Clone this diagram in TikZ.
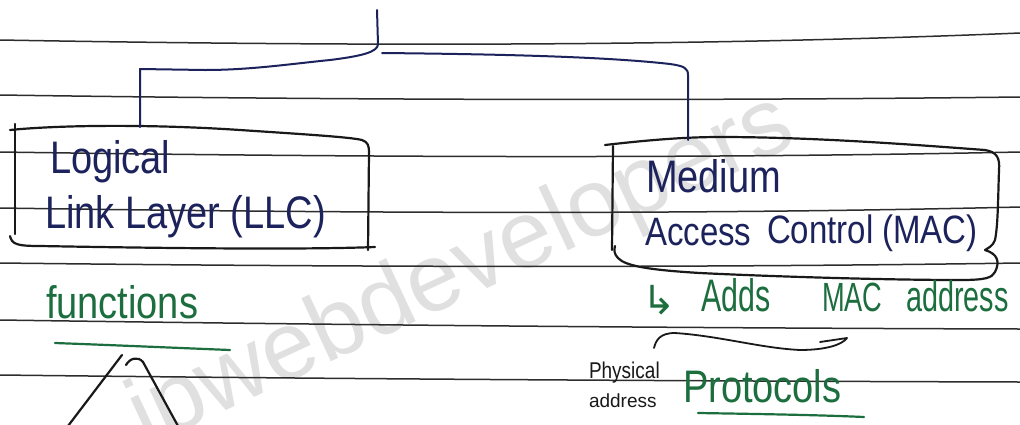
\documentclass[tikz,border=0pt]{standalone}
\usepackage{fontspec}
\setmainfont{Liberation Sans}
\newfontfamily\symfont{DejaVu Sans}
\definecolor{inkblue}{RGB}{28,34,92}
\definecolor{inkgreen}{RGB}{28,110,62}
\definecolor{inkblack}{RGB}{25,25,25}
\definecolor{rulecol}{RGB}{45,45,45}
\definecolor{wmark}{RGB}{224,224,224}
\newcommand{\tallt}[1]{\scalebox{1}[1.2]{#1}}
\newcommand{\narrowt}[1]{\scalebox{0.8}[1.2]{#1}}
\begin{document}
\begin{tikzpicture}[x=1pt,y=-1pt,line cap=round,line join=round,
  rulestyle/.style={draw=rulecol,line width=1.5pt},
  blackpen/.style={draw=inkblack,line width=2.2pt},
  bluepen/.style={draw=inkblue,line width=2pt},
  greenpen/.style={draw=inkgreen,line width=2.2pt},
  txt/.style={anchor=base west,inner sep=0pt,outer sep=0pt},
  bluetxt/.style={txt,text=inkblue,font=\fontsize{38}{40}\selectfont},
  bluetxtb/.style={txt,text=inkblue,font=\fontsize{33}{36}\selectfont},
  greentxt/.style={txt,text=inkgreen,font=\fontsize{38}{40}\selectfont},
  smalltxt/.style={txt,text=inkblack,font=\fontsize{19}{20}\selectfont}]
\useasboundingbox (0,0) rectangle (1020,424);
\clip (0,0) rectangle (1020,424);
\fill[white] (0,0) rectangle (1020,424);
% watermark
\node[anchor=base west,inner sep=0pt,text=wmark,rotate=25,font=\fontsize{96}{96}\selectfont] (wm) at (146,448) {ipwebdevelopers};
% ruled lines
\draw[rulestyle] (0,40) .. controls (340,46) and (680,47) .. (1020,33);
\draw[rulestyle] (0,95) .. controls (340,100) and (680,101) .. (1020,97);
\draw[rulestyle] (0,152) .. controls (340,157) and (680,159) .. (1020,152);
\draw[rulestyle] (0,208) .. controls (340,213) and (680,215) .. (1020,207);
\draw[rulestyle] (0,263) .. controls (340,267) and (680,268) .. (1020,263);
\draw[rulestyle] (0,320) .. controls (340,325) and (680,328) .. (1020,329);
\draw[rulestyle] (0,375) .. controls (340,379) and (680,381) .. (1020,382);
% named anchor points
\coordinate (root) at (377,10);
\coordinate (fork) at (378,44);
\coordinate (llctop) at (140,127);
\coordinate (mactop) at (688,140);
% left box (LLC)
\draw[blackpen] (10,130) .. controls (60,125) and (150,124) .. (240,130)
   .. controls (300,134) and (350,137) .. (362,140) .. controls (368,142) and (369,146) .. (369,152)
   -- (368,250);
\draw[blackpen] (15,124) -- (15,234);
\draw[blackpen] (10,236) .. controls (12,244) and (16,246) .. (40,246)
   .. controls (150,248) and (300,250) .. (375,247);
% right box (MAC)
\draw[blackpen] (605,145) .. controls (640,141) and (680,137) .. (720,137)
   .. controls (820,137) and (930,146) .. (985,150) .. controls (997,152) and (1000,158) .. (999,170)
   .. controls (998,200) and (998,225) .. (995,240) .. controls (993,246) and (988,248) .. (985,250)
   .. controls (998,254) and (1000,262) .. (995,272) .. controls (992,278) and (985,280) .. (960,280)
   .. controls (880,280) and (760,276) .. (700,273) .. controls (650,270) and (625,266) .. (618,258)
   .. controls (614,254) and (614,250) .. (615,246);
\draw[blackpen] (613,146) -- (612,250);
% tree connector
\draw[bluepen] (root) -- (fork) .. controls (378,52) and (362,56) .. (330,60)
   .. controls (290,64) and (250,70) .. (205,70) -- (140,69) -- (llctop);
\draw[bluepen] (382,53) .. controls (480,54) and (600,56) .. (670,64)
   .. controls (684,66) and (688,68) .. (688,75) -- (mactop);
% box texts
\node[bluetxt] (llc1) at (50,173) {\tallt{Logical}};
\node[bluetxt] (llc2) at (45,228) {\tallt{Link Layer (LLC)}};
\node[bluetxt] (mac1) at (646,192) {\tallt{Medium}};
\node[bluetxtb] (mac2) at (645,245) {\tallt{Access}};
\node[bluetxtb] (mac3) at (767,243) {\tallt{Control (MAC)}};
% functions
\node[greentxt] (func) at (46,318) {\tallt{functions}};
\draw[greenpen] (55,343) .. controls (110,345) and (180,348) .. (230,350);
\draw[blackpen] (68,426) -- (122,355);
\draw[blackpen] (126,365) .. controls (130,358) and (138,356) .. (143,362) -- (178,426);
% MAC notes
\node[txt,text=inkgreen,font=\symfont\fontsize{40}{42}\selectfont] (hook) at (642,314) {↳};
\node[greentxt] (adds) at (701,311) {\narrowt{Adds}};
\node[greentxt,font=\fontsize{34}{36}\selectfont] (macw) at (822,311) {\narrowt{MAC}};
\node[greentxt,font=\fontsize{36}{38}\selectfont] (addr) at (906,311) {\narrowt{address}};
\draw[blackpen,line width=1.8pt] (654,348) .. controls (656,340) and (660,333) .. (675,333)
   .. controls (720,336) and (760,348) .. (800,350) .. controls (825,350) and (842,345) .. (847,338)
   -- (820,342);
\node[smalltxt] (phys1) at (589,378) {\tallt{Physical}};
\node[smalltxt] (phys2) at (589,407) {address};
\node[greentxt] (proto) at (683,402) {\tallt{Protocols}};
\draw[greenpen] (698,413) .. controls (760,414) and (820,415) .. (864,417);
\end{tikzpicture}
\end{document}
